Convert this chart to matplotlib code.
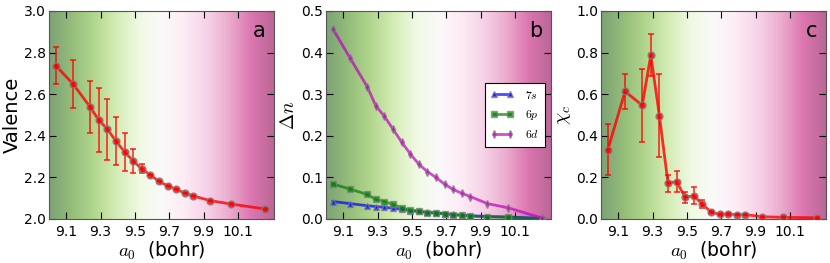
import numpy as np
import matplotlib
matplotlib.use("Agg")
import matplotlib.pyplot as plt

plt.rcParams['mathtext.fontset'] = 'cm'
plt.rcParams['font.family'] = ['DejaVu Sans']

a0 = [9.04, 9.14, 9.24, 9.29, 9.34, 9.39, 9.44, 9.49, 9.54, 9.59, 9.64, 9.69,
      9.74, 9.79, 9.84, 9.94, 10.06, 10.26]

valence = [2.737, 2.649, 2.538, 2.475, 2.432, 2.374, 2.323, 2.279, 2.241, 2.212,
           2.181, 2.160, 2.143, 2.125, 2.111, 2.088, 2.072, 2.048]
valence_err = [0.089, 0.114, 0.125, 0.153, 0.146, 0.116, 0.092, 0.058, 0.022, 0.0,
               0.0, 0.0, 0.0, 0.0, 0.0, 0.0, 0.0, 0.0]

dn_7s = [0.042, 0.037, 0.032, 0.030, 0.028, 0.026, 0.023, 0.020, 0.0185, 0.016,
         0.015, 0.013, 0.011, 0.009, 0.008, 0.006, 0.005, 0.001]
dn_6p = [0.084, 0.072, 0.059, 0.047, 0.042, 0.035, 0.027, 0.021, 0.0185, 0.015,
         0.0137, 0.012, 0.010, 0.009, 0.007, 0.005, 0.004, 0.001]
dn_6d = [0.457, 0.387, 0.318, 0.272, 0.247, 0.216, 0.185, 0.157, 0.132, 0.114,
         0.100, 0.084, 0.071, 0.062, 0.054, 0.037, 0.027, 0.002]

chi = [0.334, 0.613, 0.547, 0.788, 0.497, 0.172, 0.180, 0.104, 0.112, 0.071,
       0.034, 0.022, 0.024, 0.021, 0.021, 0.011, 0.008, 0.006]
chi_err = [0.123, 0.084, 0.175, 0.101, 0.198, 0.040, 0.049, 0.025, 0.040, 0.019,
           0.005, 0.003, 0.004, 0.002, 0.002, 0.0, 0.0, 0.0]

xticks = [9.1, 9.3, 9.5, 9.7, 9.9, 10.1]
xlim = (9.0, 10.31)

fig = plt.figure(figsize=(8.3, 2.63), dpi=100)
lefts = [49/830, 326/830, 601/830]
w = 225/830
b = 44/263
h = 208/263
axes = [fig.add_axes([l, b, w, h]) for l in lefts]

ylims = [(2.0, 3.0), (0.0, 0.5), (0.0, 1.0)]
yticks = [np.arange(2.0, 3.01, 0.2), np.arange(0, 0.51, 0.1), np.arange(0, 1.01, 0.2)]
ylabels = ['Valence', r'$\Delta n$', r'$\chi_c$']
letters = ['a', 'b', 'c']

grad = np.linspace(0, 1, 256).reshape(1, -1)
for ax, yl, yt, lab, let in zip(axes, ylims, yticks, ylabels, letters):
    ax.imshow(grad, cmap='PiYG_r', aspect='auto', alpha=0.6,
              extent=[xlim[0], xlim[1], yl[0], yl[1]], zorder=0)
    ax.set_xlim(*xlim)
    ax.set_ylim(*yl)
    ax.set_xticks(xticks)
    ax.set_xticklabels([f"{t:.1f}" for t in xticks])
    ax.set_yticks(yt)
    ax.set_yticklabels([f"{t:.1f}" for t in yt])
    ax.tick_params(direction='in', top=True, right=True, labelsize=10, length=5,
                   width=0.8, pad=2)
    ax.tick_params(axis='x', pad=4)
    ax.set_xlabel(r'$a_0$  (bohr)', fontsize=13.5, labelpad=1)
    ax.set_ylabel(lab, fontsize=14, labelpad=2)
    ax.text(0.96, 0.95, let, transform=ax.transAxes, ha='right', va='top', fontsize=15)
    for s in ax.spines.values():
        s.set_color('#555555')

ax = axes[0]
ax.errorbar(a0, valence, yerr=valence_err, color='red', lw=2, alpha=0.8,
            marker='o', ms=5, mec='gray', mfc='red', ecolor='red', elinewidth=1.2,
            capsize=2.5, capthick=1.2, zorder=3)

ax = axes[1]
ax.plot(a0, dn_7s, color='blue', lw=2, alpha=0.7, marker='^', ms=4, mec='gray',
        label=r'$7s$', zorder=3)
ax.plot(a0, dn_6p, color='green', lw=2, alpha=0.7, marker='s', ms=4, mec='gray',
        label=r'$6p$', zorder=3)
ax.plot(a0, dn_6d, color='m', lw=2, alpha=0.7, marker='d', ms=4, mec='gray',
        label=r'$6d$', zorder=3)
leg = ax.legend(loc='center right', numpoints=2, fontsize=8.5, fancybox=False,
                framealpha=1, edgecolor='black', handlelength=1.9,
                handletextpad=1.0, borderaxespad=0.5, labelspacing=0.55,
                borderpad=0.5)
leg.get_frame().set_linewidth(0.8)

ax = axes[2]
ax.errorbar(a0, chi, yerr=chi_err, color='red', lw=2, alpha=0.8,
            marker='o', ms=5, mec='gray', mfc='red', ecolor='red', elinewidth=1.2,
            capsize=2.5, capthick=1.2, zorder=3)

fig.savefig('out.png', dpi=100)
